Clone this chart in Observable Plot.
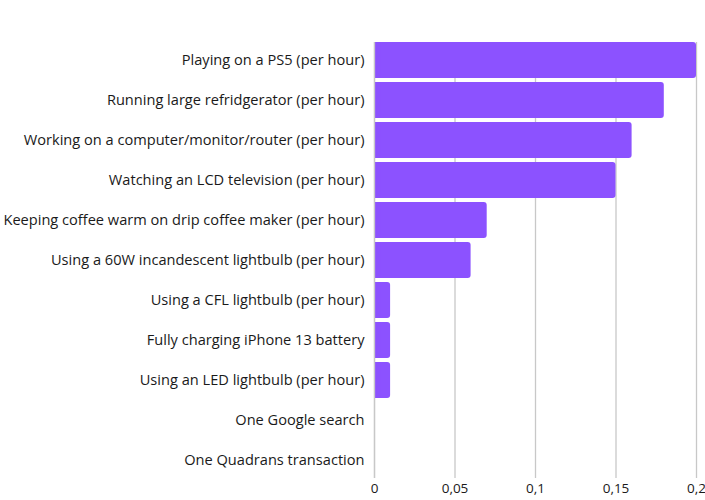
<!DOCTYPE html>
<html>
<head>
<meta charset="utf-8">
<script src="https://cdn.jsdelivr.net/npm/d3@7"></script>
<script src="https://cdn.jsdelivr.net/npm/@observablehq/plot@0.6"></script>
<style>
  html, body { margin: 0; padding: 0; background: #fff; }
  #chart { width: 705px; height: 500px; }
</style>
</head>
<body>
<div id="chart"></div>
<script>
const activities = [
  "Playing on a PS5 (per hour)",
  "Running large refridgerator (per hour)",
  "Working on a computer/monitor/router (per hour)",
  "Watching an LCD television (per hour)",
  "Keeping coffee warm on drip coffee maker (per hour)",
  "Using a 60W incandescent lightbulb (per hour)",
  "Using a CFL lightbulb (per hour)",
  "Fully charging iPhone 13 battery",
  "Using an LED lightbulb (per hour)",
  "One Google search",
  "One Quadrans transaction"
];
const kwh = [0.2, 0.18, 0.16, 0.15, 0.07, 0.06, 0.01, 0.01, 0.01, 0.0003, 0.00001];
const xTicks = [0, 0.05, 0.1, 0.15, 0.2];

const data = activities.map((a, i) => ({activity: a, value: kwh[i]}));
const color = "#8c52ff";

const chart = Plot.plot({
  width: 705,
  height: 500,
  marginLeft: 374,
  marginRight: 9,
  marginTop: 42,
  marginBottom: 22,
  style: {fontFamily: "'Open Sans', sans-serif", fontSize: "14.6px", color: "#1a1a1a", background: "#fff"},
  x: {domain: [0, 0.2], label: null},
  y: {domain: activities, paddingInner: 0.1, paddingOuter: 0, label: null},
  marks: [
    Plot.gridX(xTicks, {stroke: "#c8c8c8", strokeOpacity: 1, strokeWidth: 1.3}),
    Plot.barX(data, {y: "activity", x: "value", fill: color, rx: 3}),
    Plot.barX(data, {y: "activity", x1: 0, x2: d => Math.min(d.value, 0.004), fill: color}),
    Plot.ruleX([0], {stroke: "#c8c8c8", strokeWidth: 1.3}),
    Plot.axisY({tickSize: 0, tickPadding: 10, label: null}),
    Plot.axisX(xTicks, {tickSize: 0, tickPadding: 5, fontSize: 13.5, label: null, tickFormat: d => String(d).replace(".", ",")})
  ]
});
document.getElementById("chart").appendChild(chart);
</script>
</body>
</html>
